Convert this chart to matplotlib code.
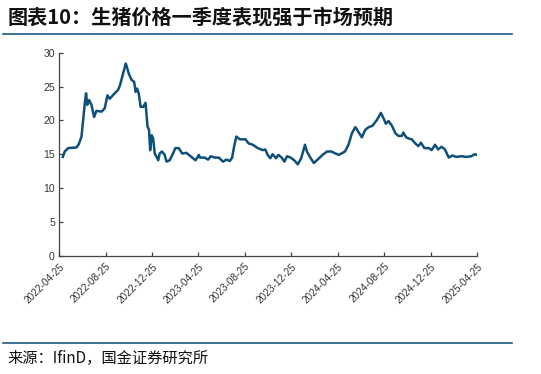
import matplotlib
matplotlib.use("Agg")
import matplotlib.pyplot as plt
from matplotlib.lines import Line2D
import pandas as pd

dates = [
    "2022-05-05", "2022-05-10", "2022-05-19", "2022-06-10", "2022-06-16", "2022-06-23",
    "2022-06-27", "2022-07-02", "2022-07-05", "2022-07-08", "2022-07-13", "2022-07-19",
    "2022-07-26", "2022-08-01", "2022-08-15", "2022-08-23", "2022-08-30", "2022-09-05",
    "2022-09-18", "2022-09-27", "2022-10-02", "2022-10-10", "2022-10-17", "2022-10-20",
    "2022-10-25", "2022-11-01", "2022-11-08", "2022-11-12", "2022-11-16", "2022-11-20",
    "2022-11-25", "2022-12-02", "2022-12-08", "2022-12-13", "2022-12-17", "2022-12-20",
    "2022-12-24", "2022-12-28", "2023-01-01", "2023-01-06", "2023-01-10", "2023-01-14",
    "2023-01-20", "2023-01-27", "2023-02-01", "2023-02-09", "2023-02-18", "2023-02-24",
    "2023-03-05", "2023-03-14", "2023-03-25", "2023-04-07", "2023-04-18", "2023-04-27",
    "2023-04-29", "2023-05-12", "2023-05-21", "2023-05-28", "2023-06-07", "2023-06-18",
    "2023-06-29", "2023-07-08", "2023-07-17", "2023-07-23", "2023-07-28", "2023-08-03",
    "2023-08-12", "2023-08-27", "2023-09-04", "2023-09-15", "2023-09-28", "2023-10-11",
    "2023-10-18", "2023-10-24", "2023-10-31", "2023-11-06", "2023-11-15", "2023-11-21",
    "2023-11-30", "2023-12-07", "2023-12-14", "2023-12-23", "2024-01-02", "2024-01-11",
    "2024-01-20", "2024-01-30", "2024-02-04", "2024-02-13", "2024-02-22", "2024-03-03",
    "2024-03-16", "2024-03-28", "2024-04-08", "2024-04-19", "2024-04-28", "2024-05-14",
    "2024-05-23", "2024-06-01", "2024-06-10", "2024-06-18", "2024-06-27", "2024-07-06",
    "2024-07-15", "2024-07-25", "2024-08-06", "2024-08-16", "2024-08-23", "2024-08-29",
    "2024-09-05", "2024-09-14", "2024-09-23", "2024-10-01", "2024-10-10", "2024-10-14",
    "2024-10-21", "2024-10-29", "2024-11-05", "2024-11-14", "2024-11-22", "2024-11-29",
    "2024-12-08", "2024-12-20", "2024-12-27", "2025-01-05", "2025-01-13", "2025-01-22",
    "2025-01-31", "2025-02-10", "2025-02-19", "2025-03-02", "2025-03-15", "2025-03-28",
    "2025-04-10", "2025-04-19", "2025-04-25",
]
prices = [
    14.6, 15.4, 15.9, 16.0, 16.5, 17.6,
    19.8, 22.7, 24.0, 22.3, 23.0, 22.3,
    20.5, 21.4, 21.3, 21.8, 23.7, 23.2,
    24.0, 24.5, 25.2, 26.9, 28.4, 27.9,
    26.9, 26.0, 25.7, 24.2, 24.7, 24.0,
    22.0, 22.0, 22.6, 19.1, 18.6, 15.6,
    17.8, 17.3, 15.1, 14.6, 14.1, 15.1,
    15.4, 14.9, 13.9, 14.1, 15.1, 15.9,
    15.9, 15.1, 15.2, 14.6, 14.1, 14.9,
    14.5, 14.5, 14.2, 14.7, 14.5, 14.5,
    13.9, 14.2, 14.0, 14.5, 16.1, 17.6,
    17.2, 17.2, 16.6, 16.4, 15.9, 15.6,
    15.7, 14.9, 14.4, 15.0, 14.4, 14.9,
    14.5, 13.9, 14.7, 14.5, 14.1, 13.5,
    14.4, 16.4, 15.4, 14.5, 13.7, 14.2,
    14.9, 15.4, 15.4, 15.1, 14.9, 15.4,
    16.4, 18.1, 19.0, 18.3, 17.5, 18.6,
    19.0, 19.2, 20.1, 21.1, 20.3, 19.5,
    19.9, 19.2, 18.1, 17.7, 17.7, 18.2,
    17.5, 17.3, 17.2, 16.6, 16.2, 16.7,
    15.9, 15.9, 15.6, 16.4, 15.7, 16.1,
    15.7, 14.5, 14.8, 14.6, 14.7, 14.6,
    14.7, 15.0, 14.9,
]
tick_labels = ["2022-04-25", "2022-08-25", "2022-12-25", "2023-04-25", "2023-08-25",
               "2023-12-25", "2024-04-25", "2024-08-25", "2024-12-25", "2025-04-25"]
y_ticks = [0, 5, 10, 15, 20, 25, 30]
title = "图表10：生猪价格一季度表现强于市场预期"
source = "来源：IfinD，国金证券研究所"

W, H = 541, 374
fig = plt.figure(figsize=(W / 100, H / 100), dpi=100)
fig.patch.set_facecolor("white")

ax = fig.add_axes([59 / W, 1 - 255.7 / H, (477 - 59) / W, (255.7 - 52.7) / H])
x = pd.to_datetime(dates)
ax.plot(x, prices, color="#0d5078", lw=1.8, solid_joinstyle="round")

tick_dates = pd.to_datetime(tick_labels)
ax.set_xlim(tick_dates[0], tick_dates[-1])
ax.set_ylim(0, 30)
ax.set_xticks(tick_dates)
ax.set_xticklabels(tick_labels, rotation=45, ha="right", va="top",
                   rotation_mode="anchor", fontsize=7.2, family="Liberation Sans",
                   color="#333333")
ax.set_yticks(y_ticks)
ax.set_yticklabels([str(v) for v in y_ticks], fontsize=7.5,
                   family="Liberation Sans", color="#333333")
for s in ["top", "right"]:
    ax.spines[s].set_visible(False)
for s in ["left", "bottom"]:
    ax.spines[s].set_color("#444444")
    ax.spines[s].set_linewidth(0.9)
ax.tick_params(axis="both", direction="in", length=3, width=0.9, color="#444444", pad=3)
ax.tick_params(axis="x", pad=4)

fig.text(8 / W, 1 - 17 / H, title, fontsize=14.5, fontweight="bold",
         family=["Noto Sans CJK SC", "DejaVu Sans"], ha="left", va="center",
         color="#111111")
fig.add_artist(Line2D([3 / W, 512 / W], [1 - 34 / H, 1 - 34 / H],
                      transform=fig.transFigure, color="#1f5a85", lw=1.2))
fig.add_artist(Line2D([3 / W, 512 / W], [1 - 343 / H, 1 - 343 / H],
                      transform=fig.transFigure, color="#1f5a85", lw=1.2))
fig.text(7 / W, 1 - 358 / H, source, fontsize=11,
         family=["Noto Sans CJK SC", "DejaVu Sans"], ha="left", va="center",
         color="#111111")

fig.savefig("out.png", dpi=100, facecolor="white")
